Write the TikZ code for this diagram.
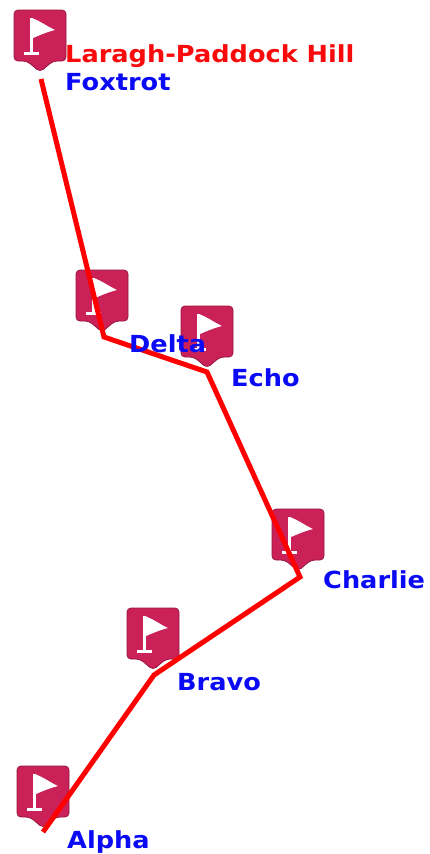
\documentclass[tikz,border=0pt]{standalone}
\usepackage{fontspec}
\setmainfont{DejaVu Sans}
\newfontfamily\lblfont[FakeStretch=1.09]{DejaVu Sans}
\definecolor{mkfill}{RGB}{202,34,88}
\definecolor{mkedge}{RGB}{150,22,62}
\definecolor{lblblue}{RGB}{10,10,245}
\definecolor{lblred}{RGB}{250,10,10}
\definecolor{routered}{RGB}{255,0,0}
\tikzset{
  marker/.pic={
    \path[fill=mkfill,draw=mkedge,line width=0.8pt,rounded corners=4pt]
      (-26,-62) -- (26,-62) -- (26,-11) -- (13,-11) -- (0,0) -- (-13,-11) -- (-26,-11) -- cycle;
    \fill[white] (-10,-54) rectangle (-7,-18);
    \fill[white] (-16,-20) rectangle (-1,-17);
    \fill[white] (-8,-54) .. controls (2,-50) and (8,-45) .. (15,-42)
      .. controls (7,-40) and (0,-37) .. (-7,-34) -- cycle;
  },
  wlabel/.style={font=\lblfont\fontsize{23.5}{26}\selectfont\bfseries, text=lblblue, inner sep=0pt, anchor=base west},
  tlabel/.style={wlabel, text=lblred},
  route/.style={draw=routered, line width=5pt, line join=miter, line cap=butt}
}
\begin{document}
\begin{tikzpicture}[x=1pt,y=-1pt]
\useasboundingbox (0,0) rectangle (430,854);
\fill[white] (0,0) rectangle (430,854);
% waypoints
\coordinate (F) at (41,79);
\coordinate (D) at (104,337);
\coordinate (E) at (207,372);
\coordinate (C) at (300,577);
\coordinate (B) at (154,675);
\coordinate (A) at (43,832);
% markers
\pic at (40,72) {marker};
\pic at (102,332) {marker};
\pic at (207,368) {marker};
\pic at (298,571) {marker};
\pic at (153,670) {marker};
\pic at (43,828) {marker};
% route
\draw[route] (F) -- (D) -- (E) -- (C) -- (B) -- (A);
% labels
\node[tlabel] (lt) at (65,62) {Laragh-Paddock Hill};
\node[wlabel] (lf) at (65,90) {Foxtrot};
\node[wlabel] (ld) at (129,352) {Delta};
\node[wlabel] (le) at (231,386) {Echo};
\node[wlabel] (lc) at (323,588) {Charlie};
\node[wlabel] (lb) at (177,690) {Bravo};
\node[wlabel] (la) at (67,848) {Alpha};
\end{tikzpicture}
\end{document}
